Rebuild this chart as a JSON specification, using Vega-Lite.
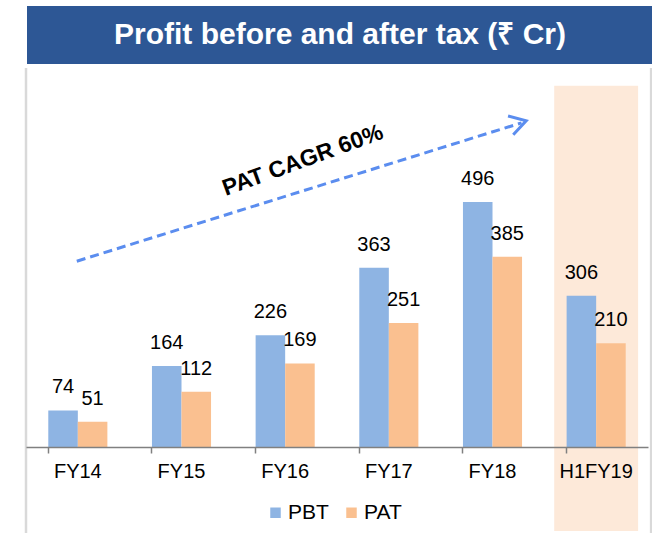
{
  "$schema": "https://vega.github.io/schema/vega-lite/v6.json",
  "padding": {"left": 24, "top": 4, "right": 0, "bottom": 0},
  "spacing": 0,
  "background": "white",
  "config": {"view": {"stroke": null}, "font": "Liberation Sans"},
  "datasets": {
    "profit": [
      {"year": "FY14", "series": "PBT", "value": 74},
      {"year": "FY14", "series": "PAT", "value": 51},
      {"year": "FY15", "series": "PBT", "value": 164},
      {"year": "FY15", "series": "PAT", "value": 112},
      {"year": "FY16", "series": "PBT", "value": 226},
      {"year": "FY16", "series": "PAT", "value": 169},
      {"year": "FY17", "series": "PBT", "value": 363},
      {"year": "FY17", "series": "PAT", "value": 251},
      {"year": "FY18", "series": "PBT", "value": 496},
      {"year": "FY18", "series": "PAT", "value": 385},
      {"year": "H1FY19", "series": "PBT", "value": 306},
      {"year": "H1FY19", "series": "PAT", "value": 210}
    ]
  },
  "vconcat": [
    {
      "width": 628,
      "height": 60,
      "view": {"fill": "#2D5795", "stroke": "#FFFFFF", "strokeWidth": 2},
      "data": {"values": [{"t": "Profit before and after tax (₹ Cr)"}]},
      "mark": {"type": "text", "color": "white", "fontSize": 30, "fontWeight": "bold", "baseline": "middle", "align": "center", "font": "Liberation Sans"},
      "encoding": {"text": {"field": "t"}}
    },
    {
      "width": 622,
      "height": 379,
      "resolve": {"scale": {"x": "independent"}},
      "layer": [
        {
          "layer": [
            {
              "data": {"values": [{"year": "H1FY19"}]},
              "mark": {"type": "bar", "color": "#FDE9D9", "width": {"band": 1.42}},
              "encoding": {
                "x": {"field": "year", "type": "nominal", "sort": ["FY14", "FY15", "FY16", "FY17", "FY18", "H1FY19"], "scale": {"domain": ["FY14", "FY15", "FY16", "FY17", "FY18", "H1FY19"], "paddingInner": 0.43, "paddingOuter": 0.215},
                  "axis": {"title": null, "zindex": 1, "labelAngle": 0, "labelFontSize": 20, "labelColor": "#000000", "labelFont": "Liberation Sans", "labelPadding": 8, "labelBaseline": "top", "domainColor": "#808080", "domainWidth": 1.5, "tickColor": "#808080", "tickSize": 6, "tickWidth": 1.5, "bandPosition": 0, "grid": false}},
                "y": {"datum": 731, "type": "quantitative", "scale": {"domain": [0, 767], "nice": false, "zero": true}, "axis": null},
                "y2": {"datum": -170}
              }
            },
            {
              "data": {"name": "profit"},
              "mark": {"type": "bar"},
              "encoding": {
                "x": {"field": "year", "type": "nominal", "sort": ["FY14", "FY15", "FY16", "FY17", "FY18", "H1FY19"], "scale": {"domain": ["FY14", "FY15", "FY16", "FY17", "FY18", "H1FY19"], "paddingInner": 0.43, "paddingOuter": 0.215},
                  "axis": {"title": null, "zindex": 1, "labelAngle": 0, "labelFontSize": 20, "labelColor": "#000000", "labelFont": "Liberation Sans", "labelPadding": 8, "labelBaseline": "top", "domainColor": "#808080", "domainWidth": 1.5, "tickColor": "#808080", "tickSize": 6, "tickWidth": 1.5, "bandPosition": 0, "grid": false}},
                "xOffset": {"field": "series", "type": "nominal", "sort": ["PBT", "PAT"], "scale": {"domain": ["PBT", "PAT"], "paddingInner": 0, "paddingOuter": 0}},
                "y": {"field": "value", "type": "quantitative", "scale": {"domain": [0, 767], "nice": false, "zero": true}, "axis": null},
                "color": {"field": "series", "type": "nominal", "sort": ["PBT", "PAT"], "scale": {"domain": ["PBT", "PAT"], "range": ["#8EB4E3", "#FAC090"]},
                  "legend": {"title": null, "orient": "none", "legendX": 239, "legendY": 497, "direction": "horizontal", "symbolType": "square", "symbolSize": 110, "labelFontSize": 21, "labelFont": "Liberation Sans", "labelColor": "#000000", "columnPadding": 12, "labelOffset": 2}}
              }
            },
            {
              "data": {"name": "profit"},
              "mark": {"type": "text", "fontSize": 20, "color": "#000000", "baseline": "alphabetic", "align": "center", "dy": -17, "font": "Liberation Sans"},
              "encoding": {
                "x": {"field": "year", "type": "nominal", "sort": ["FY14", "FY15", "FY16", "FY17", "FY18", "H1FY19"], "scale": {"domain": ["FY14", "FY15", "FY16", "FY17", "FY18", "H1FY19"], "paddingInner": 0.43, "paddingOuter": 0.215},
                  "axis": {"title": null, "zindex": 1, "labelAngle": 0, "labelFontSize": 20, "labelColor": "#000000", "labelFont": "Liberation Sans", "labelPadding": 8, "labelBaseline": "top", "domainColor": "#808080", "domainWidth": 1.5, "tickColor": "#808080", "tickSize": 6, "tickWidth": 1.5, "bandPosition": 0, "grid": false}},
                "xOffset": {"field": "series", "type": "nominal", "sort": ["PBT", "PAT"], "scale": {"domain": ["PBT", "PAT"], "paddingInner": 0, "paddingOuter": 0}},
                "y": {"field": "value", "type": "quantitative", "scale": {"domain": [0, 767], "nice": false, "zero": true}, "axis": null},
                "text": {"field": "value", "type": "quantitative"}
              }
            }
          ]
        },
        {
          "layer": [
            {
              "data": {"values": [{"ax": 0.49, "ay": 376}, {"ax": 4.78, "ay": 656}]},
              "mark": {"type": "line", "color": "#5B8DEF", "strokeWidth": 3, "strokeDash": [9, 5]},
              "encoding": {
                "x": {"field": "ax", "type": "quantitative", "scale": {"domain": [0, 6], "nice": false, "zero": false}, "axis": null},
                "y": {"field": "ay", "type": "quantitative", "scale": {"domain": [0, 767], "nice": false}, "axis": null}
              }
            },
            {
              "data": {"values": [{"ax": 4.65, "ay": 670, "k": 1}, {"ax": 4.825, "ay": 660, "k": 2}, {"ax": 4.70, "ay": 632, "k": 3}]},
              "mark": {"type": "line", "color": "#5B8DEF", "strokeWidth": 3},
              "encoding": {
                "x": {"field": "ax", "type": "quantitative", "scale": {"domain": [0, 6], "nice": false, "zero": false}, "axis": null},
                "y": {"field": "ay", "type": "quantitative", "scale": {"domain": [0, 767], "nice": false}, "axis": null},
                "order": {"field": "k"}
              }
            },
            {
              "data": {"values": [{"ax": 2.67, "ay": 580, "label": "PAT CAGR 60%"}]},
              "mark": {"type": "text", "fontSize": 23, "fontWeight": "bold", "angle": -20, "color": "#000000", "align": "center", "baseline": "middle", "font": "Liberation Sans"},
              "encoding": {
                "x": {"field": "ax", "type": "quantitative", "scale": {"domain": [0, 6], "nice": false, "zero": false}, "axis": null},
                "y": {"field": "ay", "type": "quantitative", "scale": {"domain": [0, 767], "nice": false}, "axis": null},
                "text": {"field": "label"}
              }
            },
            {
              "data": {"values": [{"bx": 0.0}, {"bx": 6.03}]},
              "mark": {"type": "rule", "color": "#D9D9D9", "strokeWidth": 2.5},
              "encoding": {
                "x": {"field": "bx", "type": "quantitative", "scale": {"domain": [0, 6], "nice": false, "zero": false}, "axis": null},
                "y": {"datum": 767, "type": "quantitative", "scale": {"domain": [0, 767], "nice": false}, "axis": null},
                "y2": {"datum": -182}
              }
            }
          ]
        }
      ]
    }
  ]
}
